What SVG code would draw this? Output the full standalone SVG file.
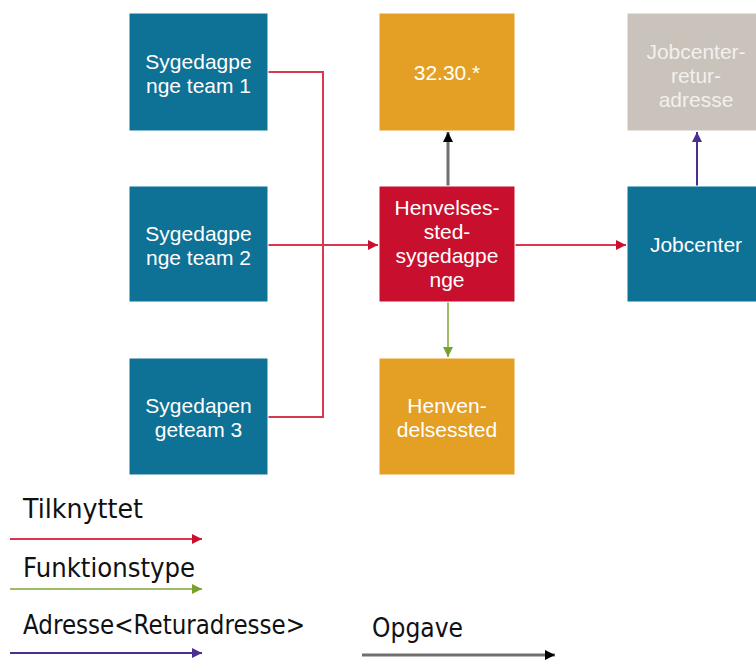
<svg xmlns="http://www.w3.org/2000/svg" width="756" height="660" viewBox="0 0 756 660">
<style>
.box{stroke:#ffffff;stroke-width:1}
.blue{fill:#0E7196}
.orange{fill:#E4A024}
.red{fill:#C8102E}
.grey{fill:#C9C3BC}
.lbl{font-family:"Liberation Sans",Arial,sans-serif;font-size:21px;fill:#ffffff;text-anchor:middle}
.lbl2{font-family:"Liberation Sans",Arial,sans-serif;font-size:21px;fill:#F4F0EC;text-anchor:middle}
.leg{font-family:"DejaVu Sans",Verdana,sans-serif;font-size:26px;fill:#111111}
.c{fill:none;stroke-width:2}
.cr{stroke:#D7384F}
.cg{stroke:#9EBD62}
.cp{stroke:#4A2F91}
.ck{stroke:#707070}
.thick{stroke-width:3}
</style>
<defs>
<marker id="ar" viewBox="0 0 10 10" refX="10" refY="5" markerWidth="10" markerHeight="10" orient="auto" markerUnits="userSpaceOnUse"><path d="M0,0L10,5L0,10z" fill="#C8102E"/></marker>
<marker id="ag" viewBox="0 0 10 10" refX="10" refY="5" markerWidth="10" markerHeight="10" orient="auto" markerUnits="userSpaceOnUse"><path d="M0,0L10,5L0,10z" fill="#76A12A"/></marker>
<marker id="ap" viewBox="0 0 10 10" refX="10" refY="5" markerWidth="10" markerHeight="10" orient="auto" markerUnits="userSpaceOnUse"><path d="M0,0L10,5L0,10z" fill="#4A2F91"/></marker>
<marker id="ak" viewBox="0 0 10 10" refX="10" refY="5" markerWidth="10" markerHeight="10" orient="auto" markerUnits="userSpaceOnUse"><path d="M0,0L10,5L0,10z" fill="#000000"/></marker>
</defs>
<rect width="756" height="660" fill="#ffffff"/>

<g id="connectors">
<path class="c cr" d="M268,72H323V417H268"/>
<path class="c cr" d="M268,245H378" marker-end="url(#ar)"/>
<path class="c cr" d="M515,245H626" marker-end="url(#ar)"/>
<path class="c ck thick" d="M448,186V132" marker-end="url(#ak)"/>
<path class="c cg" d="M448,302V357" marker-end="url(#ag)"/>
<path class="c cp" d="M697,186V132" marker-end="url(#ap)"/>
</g>

<g id="team1"><rect class="box blue" x="129" y="13" width="139" height="118"/><text class="lbl" x="198.5" y="69">Sygedagpe</text><text class="lbl" x="198.5" y="93">nge team 1</text></g>
<g id="team2"><rect class="box blue" x="129" y="186" width="139" height="116"/><text class="lbl" x="198.5" y="241">Sygedagpe</text><text class="lbl" x="198.5" y="265">nge team 2</text></g>
<g id="team3"><rect class="box blue" x="129" y="358" width="139" height="117"/><text class="lbl" x="198.5" y="413">Sygedapen</text><text class="lbl" x="198.5" y="437">geteam 3</text></g>
<g id="code"><rect class="box orange" x="379" y="13" width="136" height="118"/><text class="lbl" x="447" y="80">32.30.*</text></g>
<g id="henvelsessted"><rect class="box red" x="379" y="186" width="136" height="116"/><text class="lbl" x="447" y="215">Henvelses-</text><text class="lbl" x="447" y="239">sted-</text><text class="lbl" x="447" y="263">sygedagpe</text><text class="lbl" x="447" y="287">nge</text></g>
<g id="henvendelsessted"><rect class="box orange" x="379" y="358" width="136" height="117"/><text class="lbl" x="447" y="413">Henven-</text><text class="lbl" x="447" y="437">delsessted</text></g>
<g id="jobcenter-retur"><rect class="box grey" x="627" y="13" width="139" height="118"/><text class="lbl2" x="696" y="59">Jobcenter-</text><text class="lbl2" x="696" y="83">retur-</text><text class="lbl2" x="696" y="107">adresse</text></g>
<g id="jobcenter"><rect class="box blue" x="627" y="186" width="139" height="116"/><text class="lbl" x="696" y="252">Jobcenter</text></g>

<g id="legend">
<text class="leg" x="23" y="518" textLength="120" lengthAdjust="spacingAndGlyphs">Tilknyttet</text>
<path class="c cr" d="M10,539H202" marker-end="url(#ar)"/>
<text class="leg" x="23" y="577" textLength="172" lengthAdjust="spacingAndGlyphs">Funktionstype</text>
<path class="c cg" d="M10,589H202" marker-end="url(#ag)"/>
<text class="leg" x="23" y="634" textLength="282" lengthAdjust="spacingAndGlyphs">Adresse&lt;Returadresse&gt;</text>
<path class="c cp" d="M10,653H202" marker-end="url(#ap)"/>
<text class="leg" x="372" y="637" textLength="91" lengthAdjust="spacingAndGlyphs">Opgave</text>
<path class="c ck thick" d="M362,655H555" marker-end="url(#ak)"/>
</g>
</svg>
